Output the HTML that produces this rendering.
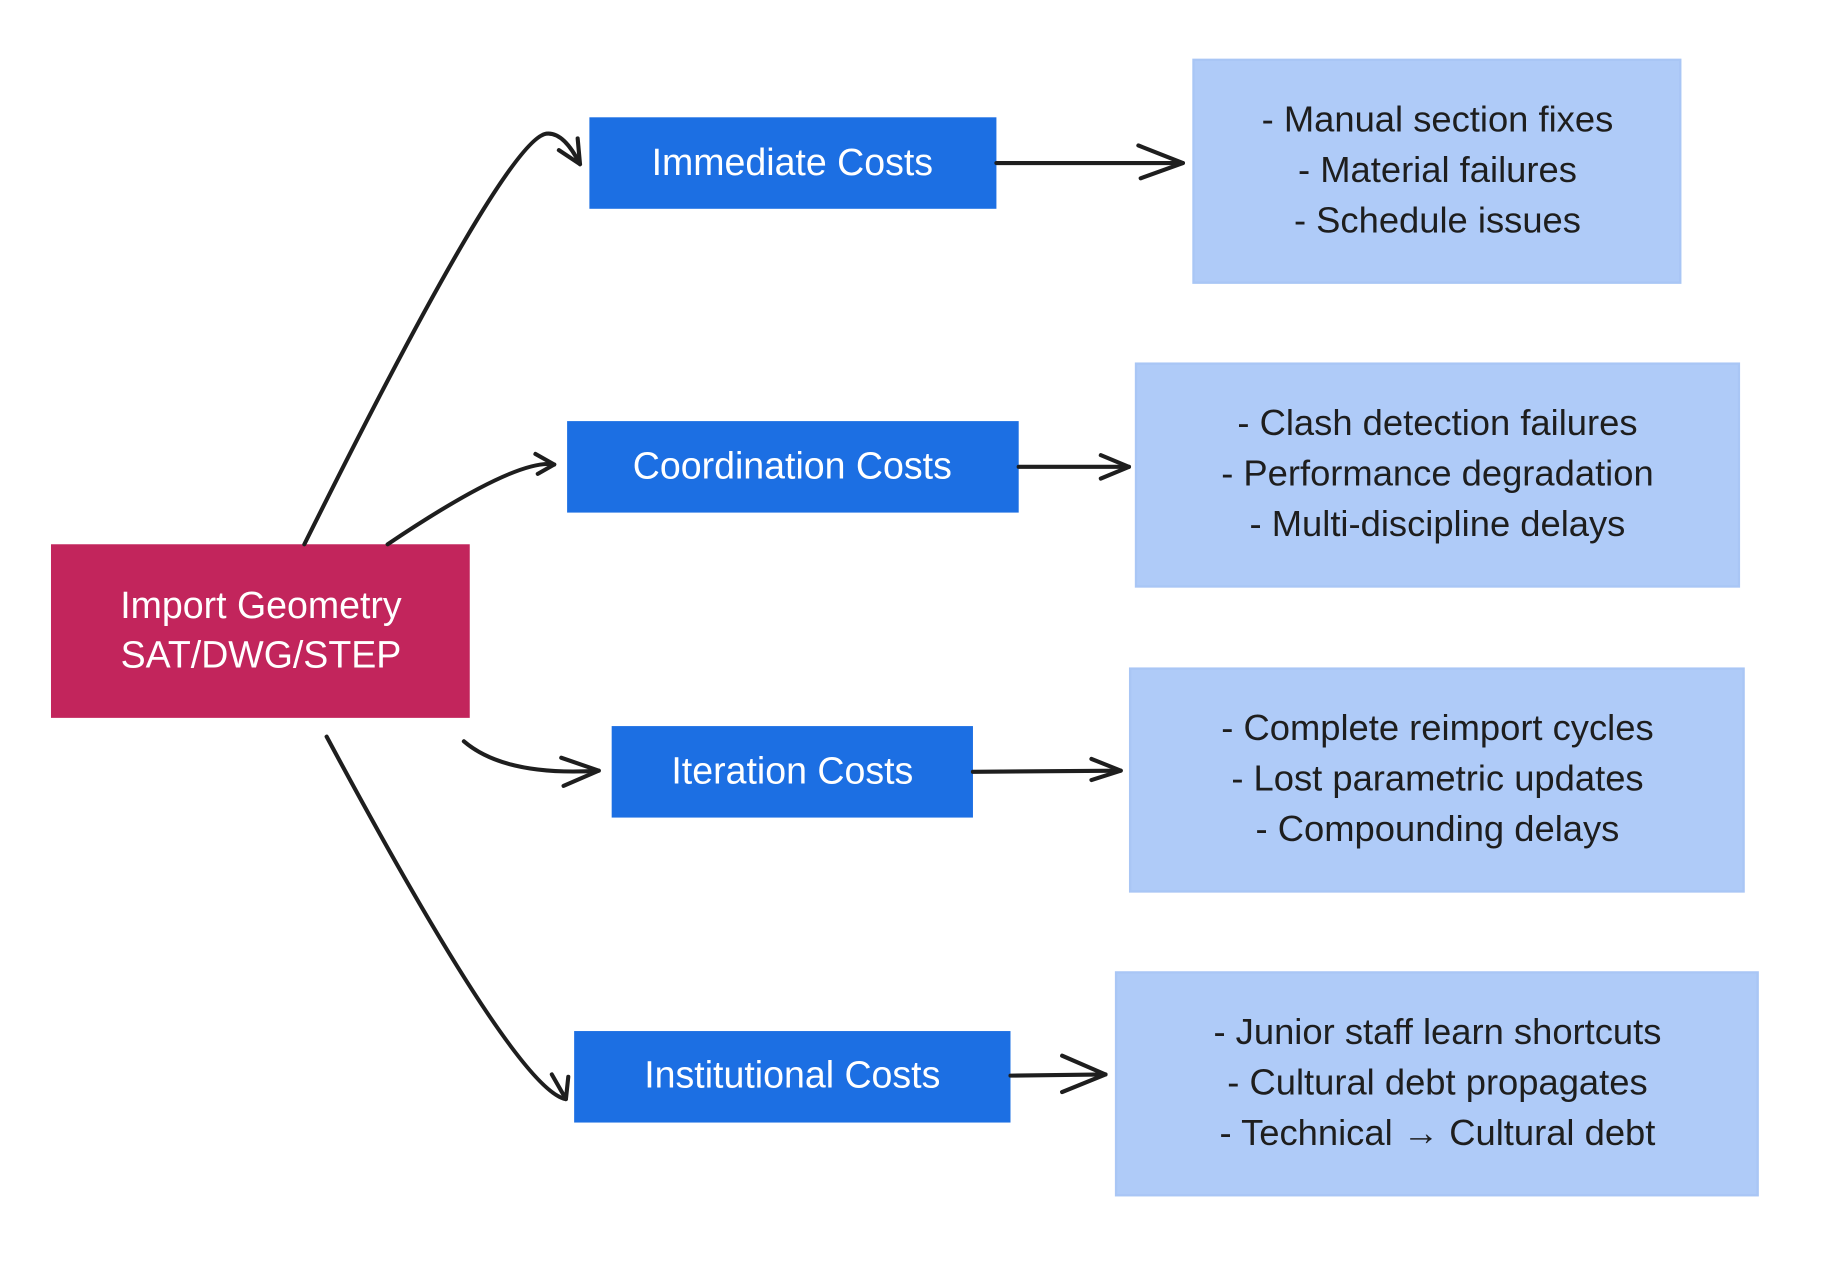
<!DOCTYPE html>
<html><head><meta charset="utf-8"><style>
html,body{margin:0;padding:0;background:#fff;}
svg{display:block;}
text{font-family:"Liberation Sans",sans-serif;}
</style></head><body>
<svg width="1838" height="1268" viewBox="0 0 1566 1081" xmlns="http://www.w3.org/2000/svg">
<rect width="1566" height="1081" fill="#fff"/>
<g fill="#afcbf8" stroke="#a9c6f5" stroke-width="2">
<rect x="1017" y="51" width="415" height="190"/>
<rect x="968" y="310" width="514" height="190"/>
<rect x="963" y="570" width="523" height="190"/>
<rect x="951" y="829" width="547" height="190"/>
</g>
<g font-size="31" fill="#1e1e1e" text-anchor="middle">
<text x="1225" y="112">- Manual section fixes</text>
<text x="1225" y="155">- Material failures</text>
<text x="1225" y="198">- Schedule issues</text>
<text x="1225" y="371">- Clash detection failures</text>
<text x="1225" y="414">- Performance degradation</text>
<text x="1225" y="457">- Multi-discipline delays</text>
<text x="1225" y="631">- Complete reimport cycles</text>
<text x="1225" y="674">- Lost parametric updates</text>
<text x="1225" y="717">- Compounding delays</text>
<text x="1225" y="890">- Junior staff learn shortcuts</text>
<text x="1225" y="933">- Cultural debt propagates</text>
<text x="1225" y="976">- Technical → Cultural debt</text>
</g>
<rect x="43" y="464" width="357" height="148" fill="#c2255c"/>
<g font-size="32" fill="#fff" text-anchor="middle">
<text x="222" y="527">Import Geometry</text>
<text x="222" y="569">SAT/DWG/STEP</text>
</g>
<g fill="#1c6fe3">
<rect x="502" y="100" width="347" height="78"/>
<rect x="483" y="359" width="385" height="78"/>
<rect x="521" y="619" width="308" height="78"/>
<rect x="489" y="879" width="372" height="78"/>
</g>
<g font-size="32" fill="#fff" text-anchor="middle">
<text x="675" y="149">Immediate Costs</text>
<text x="675" y="408">Coordination Costs</text>
<text x="675" y="668">Iteration Costs</text>
<text x="675" y="927">Institutional Costs</text>
</g>
<g fill="none" stroke="#1e1e1e" stroke-width="3.5" stroke-linecap="round" stroke-linejoin="round">
<path d="M259 464 Q430 120 465 114 Q480 112 494 140"/>
<path d="M476 128 L494 140 L492 118"/>
<path d="M330 464 Q440 390 472 396"/>
<path d="M456 387 L472 396 L458 404"/>
<path d="M395 632 Q430 662 510 657"/>
<path d="M478 646 L510 657 L480 670"/>
<path d="M278 628 Q440 930 482 937"/>
<path d="M470 916 L482 937 L484 918"/>
<path d="M849 139 L1008 139"/>
<path d="M970 124 L1008 139 L972 152"/>
<path d="M868 398 L962 398"/>
<path d="M938 388 L962 398 L938 408"/>
<path d="M829 658 L955 657"/>
<path d="M930 647 L955 657 L930 665"/>
<path d="M861 917 L942 916"/>
<path d="M905 900 L942 916 L905 931"/>
</g>
</svg>
</body></html>
